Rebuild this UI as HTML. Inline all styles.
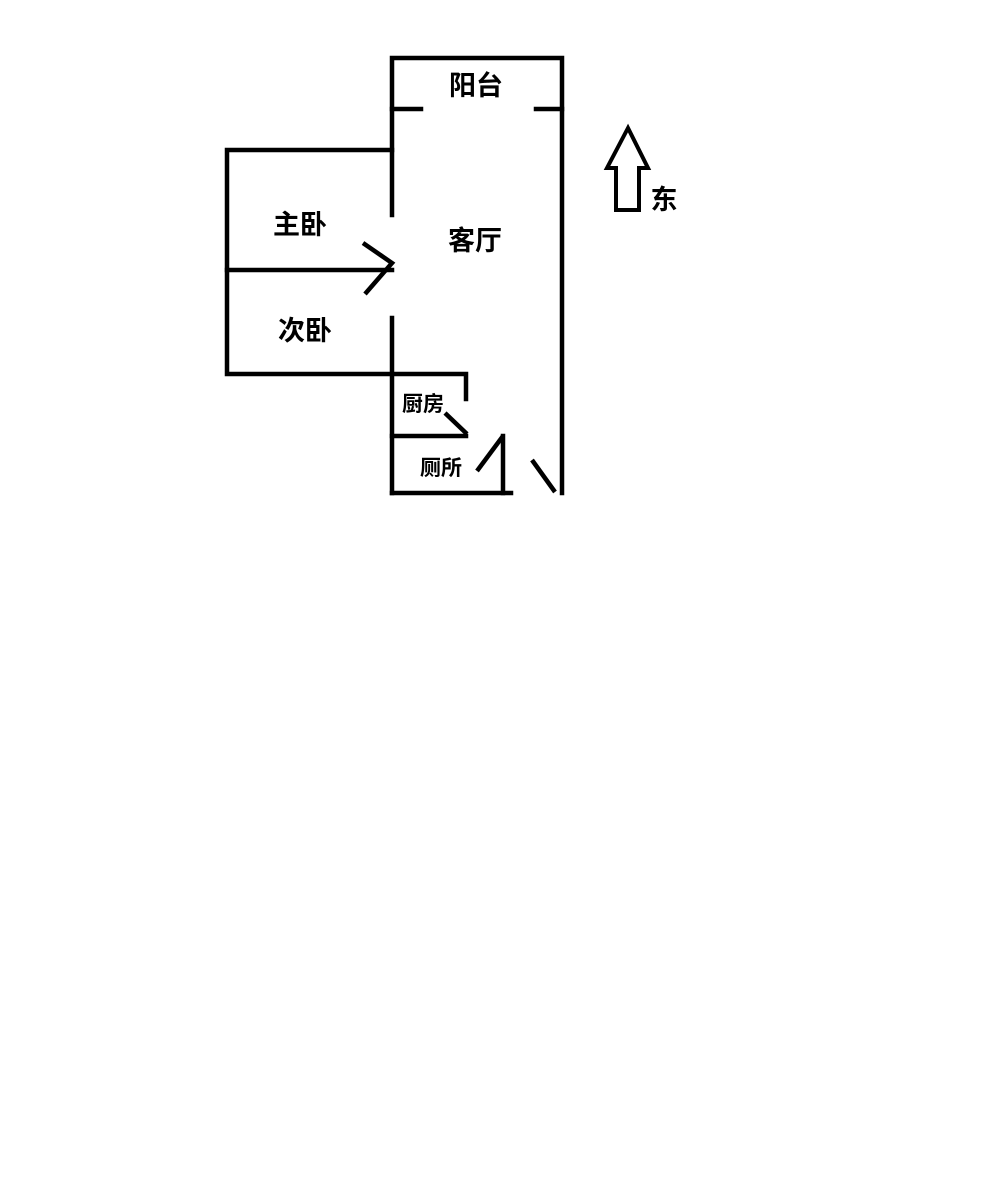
<!DOCTYPE html>
<html><head><meta charset="utf-8"><style>
html,body{margin:0;padding:0;background:#fff;}
svg{display:block;}
text{font-family:"Liberation Sans","Noto Sans CJK SC",sans-serif;font-weight:bold;fill:#000;}
</style></head><body>
<svg width="1000" height="1183" viewBox="0 0 1000 1183" xmlns="http://www.w3.org/2000/svg">
<g stroke="#000" stroke-width="4.5" fill="none" stroke-linecap="square">
<polyline points="392,215 392,58 562,58 562,493"/>
<line x1="392" y1="109" x2="421" y2="109"/>
<line x1="536" y1="109" x2="562" y2="109"/>
<line x1="392" y1="318" x2="392" y2="493"/>
<polyline points="392,150 227,150 227,374 466,374 466,399"/>
<line x1="227" y1="270" x2="392" y2="270"/>
<line x1="392" y1="493" x2="511" y2="493"/>
<line x1="392" y1="436" x2="466" y2="436"/>
<line x1="503" y1="436" x2="503" y2="493"/>
</g>
<g stroke="#000" stroke-width="4.5" fill="none">
<polyline points="363,243 392,263 365,294"/>
<line x1="445" y1="413" x2="467" y2="434"/>
<line x1="477" y1="471" x2="503" y2="436"/>
<line x1="532" y1="460" x2="555" y2="492"/>
<polygon points="628,128 607,168 616,168 616,210 639,210 639,168 648,168" stroke-width="4"/>
</g>
<text x="476" y="95" font-size="27" text-anchor="middle">阳台</text>
<text x="475" y="250" font-size="27" text-anchor="middle">客厅</text>
<text x="300" y="234" font-size="27" text-anchor="middle">主卧</text>
<text x="305" y="340" font-size="27" text-anchor="middle">次卧</text>
<text x="423" y="411" font-size="21" text-anchor="middle">厨房</text>
<text x="441" y="475" font-size="21" text-anchor="middle">厕所</text>
<text x="664" y="209" font-size="27" text-anchor="middle">东</text>
</svg>
</body></html>
